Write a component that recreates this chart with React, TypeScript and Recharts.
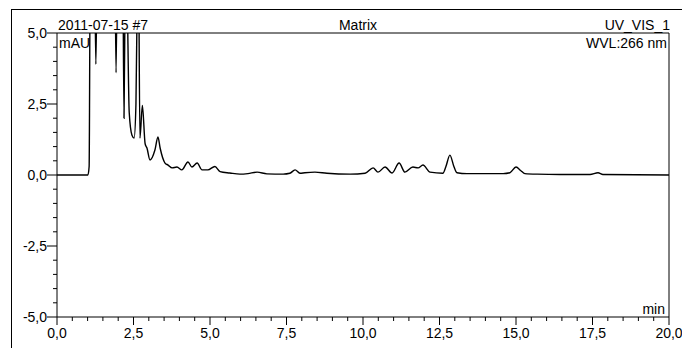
import { LineChart, Line, XAxis, YAxis, ReferenceLine } from 'recharts'

// retention time (min) and detector signal (mAU)
const times = [
  0, 1.01, 1.05, 1.09, 1.22, 1.27, 1.32, 1.6, 1.88, 1.93, 1.98, 2.08, 2.15, 2.19, 2.23, 2.27,
  2.3, 2.36, 2.45, 2.52, 2.58, 2.63, 2.66, 2.71, 2.79, 2.88, 2.94, 3.04, 3.2, 3.3, 3.37, 3.53,
  3.63, 3.76, 3.92, 4.08, 4.28, 4.41, 4.58, 4.74, 4.93, 5.16, 5.33, 5.65, 5.98, 6.24, 6.54, 6.86,
  7.39, 7.61, 7.78, 7.94, 8.1, 8.43, 8.82, 9.58, 10.07, 10.33, 10.49, 10.72, 10.95, 11.18, 11.37,
  11.63, 11.8, 11.96, 12.19, 12.61, 12.71, 12.84, 12.97, 13.07, 13.4, 14.58, 14.8, 15.0, 15.16,
  15.29, 15.69, 16.44, 17.42, 17.68, 17.84, 20,
]
const signal = [
  0, 0, 0.3, 8, 8, 3.9, 8, 12, 9, 3.6, 9, 12, 8, 2.0, 7, 8,
  6, 2.2, 1.4, 1.3, 2.5, 7, 8, 1.3, 2.45, 1.1, 0.95, 0.53, 0.88, 1.34, 0.95, 0.42,
  0.35, 0.25, 0.28, 0.18, 0.46, 0.28, 0.42, 0.18, 0.18, 0.3, 0.12, 0.07, 0.03, 0.05, 0.1, 0.04,
  0.03, 0.06, 0.18, 0.06, 0.08, 0.1, 0.06, 0.03, 0.06, 0.25, 0.1, 0.28, 0.07, 0.42, 0.1,
  0.28, 0.25, 0.35, 0.1, 0.06, 0.3, 0.7, 0.3, 0.08, 0.05, 0.05, 0.08, 0.28, 0.15,
  0.05, 0.03, 0.02, 0.02, 0.08, 0.02, 0,
]

const xMajor = [0, 2.5, 5, 7.5, 10, 12.5, 15, 17.5, 20]
const yMajor = [-5, -2.5, 0, 2.5, 5]

const minorTicks = (from: number, to: number, step: number) => {
  const out: number[] = []
  for (let v = from; v <= to + 1e-9; v += step) out.push(Math.round(v * 100) / 100)
  return out
}
const xTicks = minorTicks(0, 20, 0.5)
const yTicks = minorTicks(-5, 5, 0.5)

const data = times.map((t, i) => ({ t, v: signal[i] }))

const fmt = (v: number) => v.toFixed(1).replace('.', ',')
const font = '"Liberation Sans", Arial, sans-serif'

const XTick = ({ x, y, payload }: any) => {
  const major = xMajor.includes(payload.value)
  return (
    <g>
      <line x1={x} x2={x} y1={y} y2={y + (major ? 8 : 4)} stroke="#000" />
      {major && (
        <text x={x} y={y + 21} textAnchor="middle" fontSize={14} fill="#000" fontFamily={font}>
          {fmt(payload.value)}
        </text>
      )}
    </g>
  )
}

const YTick = ({ x, y, payload }: any) => {
  const major = yMajor.includes(payload.value)
  return (
    <g>
      <line x1={x - (major ? 10 : 4)} x2={x} y1={y} y2={y} stroke="#000" />
      {major && (
        <text x={x - 10} y={y + 5} textAnchor="end" fontSize={14} fill="#000" fontFamily={font}>
          {fmt(payload.value)}
        </text>
      )}
    </g>
  )
}

const txt = { position: 'absolute' as const, fontSize: 14, lineHeight: '16px', fontFamily: font, color: '#000', whiteSpace: 'nowrap' as const }

export default function App() {
  return (
    <div style={{ position: 'fixed', left: 0, top: 0, width: 682, height: 348, background: '#fff', overflow: 'hidden' }}>
      <div style={{ position: 'absolute', left: 11, top: 9, width: 700, height: 400, border: '1px solid #000' }} />
      <LineChart width={682} height={348} data={data} margin={{ top: 33, right: 13, bottom: 0, left: 0 }}>
        <XAxis
          type="number"
          dataKey="t"
          domain={[0, 20]}
          ticks={xTicks}
          interval={0}
          tickSize={0}
          tickMargin={0}
          tickLine={false}
          tick={<XTick />}
          height={31}
          stroke="#000"
          allowDataOverflow
        />
        <YAxis
          type="number"
          domain={[-5, 5]}
          ticks={yTicks}
          interval={0}
          tickSize={0}
          tickMargin={0}
          tickLine={false}
          tick={<YTick />}
          width={57}
          stroke="#000"
          allowDataOverflow
        />
        <ReferenceLine y={5} stroke="#000" />
        <ReferenceLine x={20} stroke="#000" />
        <Line type="monotone" dataKey="v" stroke="#000" strokeWidth={1.4} dot={false} isAnimationActive={false} />
      </LineChart>
      <div style={{ ...txt, left: 58, top: 17 }}>2011-07-15 #7</div>
      <div style={{ ...txt, left: 358, top: 17, transform: 'translateX(-50%)' }}>Matrix</div>
      <div style={{ ...txt, right: 12, top: 17 }}>UV_VIS_1</div>
      <div style={{ ...txt, right: 15, top: 35 }}>WVL:266 nm</div>
      <div style={{ ...txt, left: 59, top: 35 }}>mAU</div>
      <div style={{ ...txt, right: 17, top: 301 }}>min</div>
    </div>
  )
}
